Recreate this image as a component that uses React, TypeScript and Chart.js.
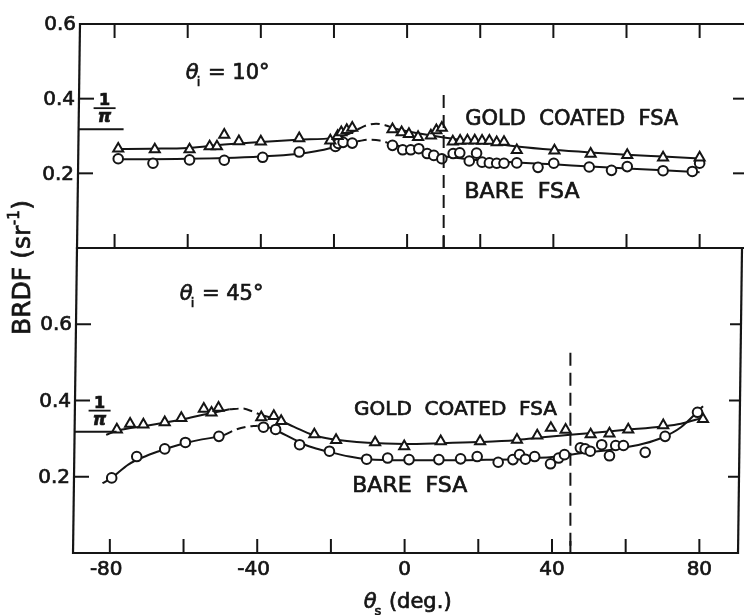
import React, { useEffect, useRef } from 'react';
import { Chart, registerables } from 'chart.js';

Chart.register(...registerables);

const W = 744;
const H = 615;
const INK = '#151515';
const FONT = '"DejaVu Sans", "Noto Sans", sans-serif';

// ---------------- x ticks ----------------
const xTickValues = [-80, -60, -40, -20, 0, 20, 40, 60, 80];
const xTickLabels = [-80, -40, 0, 40, 80];

// ---------------- TOP PANEL (theta_i = 10 deg) ----------------
const topGoldX = [-79, -69, -59.5, -54, -52, -50, -46, -40, -29.5, -21, -19, -18, -16.5, -15, -4, -1.5, 0.5, 3, 6.5, 8, 9.5, 12.5, 14.5, 16.5, 18.5, 20.5, 22.5, 24.5, 26.5, 30, 40.3, 50.2, 60.2, 70, 80];
const topGoldY = [0.266, 0.264, 0.264, 0.272, 0.272, 0.303, 0.286, 0.285, 0.294, 0.288, 0.3, 0.31, 0.316, 0.322, 0.318, 0.31, 0.305, 0.297, 0.301, 0.315, 0.322, 0.285, 0.287, 0.288, 0.288, 0.287, 0.287, 0.283, 0.284, 0.262, 0.261, 0.252, 0.249, 0.242, 0.242];

const topBareX = [-79, -69.5, -59.5, -50, -39.5, -29.5, -19.6, -18.8, -17.5, -15, -4, -1.2, 1, 3.2, 5.5, 7.3, 9.5, 12.6, 14.4, 19, 17, 20.5, 22.5, 24.5, 26.5, 30, 35.8, 40.1, 49.8, 55.9, 60.2, 70, 78, 80];
const topBareY = [0.239, 0.227, 0.236, 0.235, 0.243, 0.257, 0.272, 0.28, 0.283, 0.281, 0.275, 0.263, 0.263, 0.266, 0.253, 0.248, 0.239, 0.253, 0.255, 0.254, 0.233, 0.23, 0.228, 0.227, 0.227, 0.228, 0.216, 0.227, 0.217, 0.208, 0.218, 0.207, 0.205, 0.227];

const topGoldFitAX = [-80, -70, -60, -50, -40, -30, -20, -16, -13.5];
const topGoldFitAY = [0.265, 0.266, 0.268, 0.277, 0.284, 0.29, 0.295, 0.305, 0.318];
const topGoldFitDashX = [-13.5, -11, -8.5, -6, -3.5];
const topGoldFitDashY = [0.318, 0.329, 0.333, 0.329, 0.32];
const topGoldFitBX = [-3.5, 0, 5, 10, 15, 20, 30, 40, 50, 60, 70, 80];
const topGoldFitBY = [0.32, 0.313, 0.304, 0.296, 0.289, 0.284, 0.272, 0.263, 0.256, 0.25, 0.245, 0.24];

const topBareFitAX = [-80, -70, -60, -50, -40, -30, -25, -20, -16, -13.5];
const topBareFitAY = [0.238, 0.238, 0.239, 0.241, 0.245, 0.252, 0.259, 0.27, 0.281, 0.286];
const topBareFitDashX = [-13.5, -10.5, -7.5, -4.5];
const topBareFitDashY = [0.286, 0.29, 0.288, 0.279];
const topBareFitBX = [-4.5, 0, 5, 10, 15, 20, 30, 40, 50, 60, 70, 80];
const topBareFitBY = [0.279, 0.268, 0.256, 0.246, 0.24, 0.235, 0.229, 0.224, 0.218, 0.213, 0.208, 0.203];

// ---------------- BOTTOM PANEL (theta_i = 45 deg) ----------------
const botGoldX = [-78.1, -74.5, -70.9, -65.1, -60.6, -54.5, -52.4, -50.5, -38.9, -35.5, -33.5, -24.5, -18.6, -8, -0.1, 9.8, 20.5, 30.5, 36, 39.7, 43.7, 50.5, 55.6, 60.7, 70.2, 81];
const botGoldY = [0.324, 0.339, 0.337, 0.343, 0.354, 0.378, 0.368, 0.381, 0.356, 0.359, 0.346, 0.311, 0.296, 0.29, 0.28, 0.293, 0.293, 0.297, 0.308, 0.328, 0.323, 0.311, 0.313, 0.324, 0.335, 0.351];

const botBareX = [-79.5, -72.7, -65.1, -59.5, -50.4, -38.3, -35, -28.5, -20.4, -10.3, -4.6, 1.2, 9.3, 15.2, 19.7, 25.4, 29.4, 31.2, 32.8, 35.3, 39.6, 41.8, 43.4, 47.7, 49, 50.4, 53.5, 55.6, 57.3, 59.4, 65.3, 70.7, 79.5];
const botBareY = [0.197, 0.253, 0.273, 0.29, 0.306, 0.33, 0.324, 0.284, 0.267, 0.246, 0.249, 0.245, 0.245, 0.247, 0.253, 0.238, 0.245, 0.258, 0.246, 0.253, 0.234, 0.249, 0.258, 0.276, 0.273, 0.267, 0.284, 0.255, 0.282, 0.282, 0.264, 0.306, 0.369];

const botGoldFitAX = [-81, -78, -70, -60, -55, -50, -47.5];
const botGoldFitAY = [0.31, 0.321, 0.334, 0.351, 0.362, 0.372, 0.377];
const botGoldFitDashX = [-47.5, -44, -41, -39];
const botGoldFitDashY = [0.377, 0.379, 0.37, 0.362];
const botGoldFitBX = [-39, -35, -30, -25, -20, -10, 0, 10, 20, 30, 36, 45, 50, 60, 70, 75, 81];
const botGoldFitBY = [0.362, 0.352, 0.331, 0.31, 0.299, 0.289, 0.286, 0.288, 0.291, 0.296, 0.302, 0.31, 0.314, 0.323, 0.332, 0.339, 0.355];

const botBareFitAX = [-82, -79.5, -75, -70, -65, -60, -55, -50, -49];
const botBareFitAY = [0.183, 0.197, 0.232, 0.255, 0.272, 0.287, 0.298, 0.306, 0.309];
const botBareFitDashX = [-49, -46, -43, -40];
const botBareFitDashY = [0.309, 0.323, 0.331, 0.334];
const botBareFitBX = [-40, -37, -35, -30, -26, -20, -15, -10, 0, 10, 20, 30, 35, 40, 45, 50, 57, 65, 70, 75, 81];
const botBareFitBY = [0.334, 0.33, 0.322, 0.298, 0.28, 0.264, 0.253, 0.246, 0.243, 0.243, 0.244, 0.246, 0.249, 0.252, 0.258, 0.264, 0.272, 0.287, 0.303, 0.33, 0.385];

// ---------------- helpers ----------------
const pts = (xs: number[], ys: number[]) => xs.map((x, i) => ({ x, y: ys[i] }));

function markerSet(xs: number[], ys: number[], style: string) {
  return {
    data: pts(xs, ys),
    showLine: false,
    pointStyle: style,
    pointRadius: style === 'triangle' ? 5.8 : 4.8,
    pointBorderWidth: 2,
    pointBackgroundColor: '#fff',
    pointBorderColor: INK,
    backgroundColor: '#fff',
    borderColor: INK,
    order: 0,
    clip: 10,
  };
}

function fitSet(xs: number[], ys: number[], dashed: boolean) {
  return {
    data: pts(xs, ys),
    showLine: true,
    pointRadius: 0,
    borderColor: INK,
    borderWidth: 2,
    borderDash: dashed ? [9, 5] : [],
    cubicInterpolationMode: 'monotone',
    fill: false,
    order: 1,
    clip: 10,
  };
}

type Note =
  | { kind: 'text'; text: string; x: number; y: number; size: number }
  | { kind: 'theta'; sub: string; rest: string; x: number; y: number; size: number };

interface PanelCfg {
  spineLeft: [number, number];
  spineRight: [number, number] | null;
  lineEnd: number;
  topLine: boolean;
  topTicks: boolean;
  leftTicks: number[];
  rightTicks: number[];
  yLabels: number[];
  xLabels: number[];
  specular: number;
  specularTop: number;
  onePiLen: number;
  fracDx: number;
  notes: Note[];
  axisTitles: boolean;
}

// filled + lightly stroked text, to match the heavier lettering of the original
function txt(ctx: CanvasRenderingContext2D, s: string, x: number, y: number) {
  ctx.fillText(s, x, y);
  ctx.save();
  ctx.lineWidth = 0.7;
  ctx.setLineDash([]);
  ctx.strokeText(s, x, y);
  ctx.restore();
}

function drawTheta(ctx: CanvasRenderingContext2D, px: number, py: number, sub: string, rest: string, size: number, draw: boolean) {
  ctx.textAlign = 'left';
  ctx.textBaseline = 'alphabetic';
  ctx.font = `italic ${size}px ${FONT}`;
  const wt = ctx.measureText('θ').width;
  if (draw) txt(ctx, 'θ', px, py);
  const subSize = Math.round(size * 0.62);
  ctx.font = `${subSize}px ${FONT}`;
  const ws = ctx.measureText(sub).width;
  if (draw) txt(ctx, sub, px + wt - 2, py + size * 0.32);
  ctx.font = `${size}px ${FONT}`;
  const wr = ctx.measureText(rest).width;
  if (draw) txt(ctx, rest, px + wt + ws - 1, py);
  return wt + ws - 1 + wr;
}

function drawPanel(chart: any, cfg: PanelCfg) {
  const { ctx, chartArea: a } = chart;
  const xs = chart.scales.x;
  const ys = chart.scales.y;
  const X = (v: number) => xs.getPixelForValue(v);
  const Y = (v: number) => ys.getPixelForValue(v);
  const frac = (py: number) => (py - a.top) / (a.bottom - a.top);
  const leftAt = (py: number) => cfg.spineLeft[0] + (cfg.spineLeft[1] - cfg.spineLeft[0]) * frac(py);
  const rightAt = (py: number) =>
    cfg.spineRight ? cfg.spineRight[0] + (cfg.spineRight[1] - cfg.spineRight[0]) * frac(py) : cfg.lineEnd;

  ctx.save();
  ctx.strokeStyle = INK;
  ctx.fillStyle = INK;
  ctx.lineWidth = 2.2;
  ctx.lineCap = 'butt';
  const seg = (x1: number, y1: number, x2: number, y2: number) => {
    ctx.beginPath();
    ctx.moveTo(x1, y1);
    ctx.lineTo(x2, y2);
    ctx.stroke();
  };

  // frame
  seg(leftAt(a.top), a.top - 1, leftAt(a.bottom), a.bottom + 1);
  if (cfg.topLine) seg(leftAt(a.top) - 1, a.top, cfg.lineEnd, a.top);
  seg(leftAt(a.bottom) - 1, a.bottom, cfg.spineRight ? rightAt(a.bottom) + 1 : cfg.lineEnd, a.bottom);
  if (cfg.spineRight) seg(rightAt(a.top), a.top, rightAt(a.bottom), a.bottom + 1);

  // x ticks (inward)
  ctx.lineWidth = 2;
  for (const v of xTickValues) {
    const px = X(v);
    seg(px, a.bottom, px, a.bottom - 14);
    if (cfg.topTicks) seg(px, a.top, px, a.top + 14);
  }
  seg(X(cfg.specular), a.bottom, X(cfg.specular), a.bottom - 12);

  // y ticks
  for (const v of cfg.leftTicks) {
    const py = Y(v);
    seg(leftAt(py), py, leftAt(py) + 15, py);
  }
  for (const v of cfg.rightTicks) {
    const py = Y(v);
    seg(rightAt(py), py, rightAt(py) - 11, py);
  }

  // y labels
  ctx.font = `20px ${FONT}`;
  ctx.textAlign = 'right';
  ctx.textBaseline = 'middle';
  for (const v of cfg.yLabels) {
    const py = Y(v);
    txt(ctx, v.toFixed(1), leftAt(py) - 4, py + 1);
  }

  // 1/pi marker
  const pyPi = Y(1 / Math.PI);
  seg(leftAt(pyPi), pyPi, leftAt(pyPi) + cfg.onePiLen, pyPi);
  const cx = leftAt(pyPi) + cfg.fracDx;
  ctx.lineWidth = 1.8;
  seg(cx - 11, pyPi - 21, cx + 11, pyPi - 21);
  ctx.textAlign = 'center';
  ctx.textBaseline = 'alphabetic';
  ctx.font = `bold 16px ${FONT}`;
  txt(ctx, '1', cx, pyPi - 24);
  ctx.font = `italic bold 17px ${FONT}`;
  txt(ctx, 'π', cx, pyPi - 7);

  // specular dashed line
  ctx.lineWidth = 2;
  ctx.setLineDash([13, 7]);
  seg(X(cfg.specular), Y(cfg.specularTop), X(cfg.specular), a.bottom);
  ctx.setLineDash([]);

  // notes
  for (const n of cfg.notes) {
    if (n.kind === 'text') {
      ctx.font = `${n.size}px ${FONT}`;
      ctx.textAlign = 'left';
      ctx.textBaseline = 'alphabetic';
      txt(ctx, n.text, X(n.x), Y(n.y));
    } else {
      drawTheta(ctx, X(n.x), Y(n.y), n.sub, n.rest, n.size, true);
    }
  }

  // x tick labels
  ctx.textBaseline = 'middle';
  ctx.font = `20px ${FONT}`;
  for (const v of cfg.xLabels) {
    const px = X(v);
    const digits = String(Math.abs(v));
    const dw = ctx.measureText(digits).width;
    ctx.textAlign = 'right';
    txt(ctx, v < 0 ? '-' + digits : digits, px + dw / 2, a.bottom + 17);
  }

  if (cfg.axisTitles) {
    // x title
    const tw = drawTheta(ctx, 0, 0, 's', ' (deg.)', 21, false);
    drawTheta(ctx, X(0) + 3 - tw / 2, a.bottom + 55, 's', ' (deg.)', 21, true);

    // y title (rotated)
    ctx.save();
    ctx.translate(23, 268);
    ctx.rotate(-Math.PI / 2);
    ctx.textBaseline = 'middle';
    ctx.textAlign = 'left';
    ctx.font = `25px ${FONT}`;
    const p1 = 'BRDF (sr';
    const w1 = ctx.measureText(p1).width;
    const w3 = ctx.measureText(')').width;
    ctx.font = `15px ${FONT}`;
    const w2 = ctx.measureText('-1').width;
    const start = -(w1 + w2 + w3) / 2;
    ctx.font = `25px ${FONT}`;
    txt(ctx, p1, start, 0);
    txt(ctx, ')', start + w1 + w2 + 1, 0);
    ctx.font = `15px ${FONT}`;
    txt(ctx, '-1', start + w1 + 0.5, -8);
    ctx.restore();
  }

  ctx.restore();
}

function makeConfig(datasets: any[], ymax: number, padding: any, cfg: PanelCfg): any {
  return {
    type: 'scatter',
    data: { datasets },
    options: {
      responsive: false,
      animation: false,
      devicePixelRatio: 1,
      events: [],
      layout: { padding },
      scales: {
        x: { type: 'linear', min: -90, max: 90, display: false },
        y: { type: 'linear', min: 0, max: ymax, display: false },
      },
      plugins: { legend: { display: false }, tooltip: { enabled: false }, title: { display: false } },
    },
    plugins: [
      {
        id: 'panelDecor',
        afterDatasetsDraw(chart: any) {
          drawPanel(chart, cfg);
        },
      },
    ],
  };
}

const topCfg: PanelCfg = {
  spineLeft: [80, 77],
  spineRight: null,
  lineEnd: 744,
  topLine: true,
  topTicks: true,
  leftTicks: [0.4, 0.2],
  rightTicks: [0.4, 0.2],
  yLabels: [0.6, 0.4, 0.2],
  xLabels: [],
  specular: 10,
  specularTop: 0.41,
  onePiLen: 45,
  fracDx: 26,
  axisTitles: false,
  notes: [
    { kind: 'theta', sub: 'i', rest: ' = 10°', x: -60.5, y: 0.453, size: 21 },
    { kind: 'text', text: 'GOLD  COATED  FSA', x: 15.9, y: 0.329, size: 21 },
    { kind: 'text', text: 'BARE  FSA', x: 15.7, y: 0.134, size: 22 },
  ],
};

const botCfg: PanelCfg = {
  spineLeft: [77, 73],
  spineRight: [742, 738],
  lineEnd: 738,
  topLine: false,
  topTicks: false,
  leftTicks: [0.6, 0.4, 0.2],
  rightTicks: [0.6, 0.4, 0.2],
  yLabels: [0.6, 0.4, 0.2],
  xLabels: xTickLabels,
  specular: 45,
  specularTop: 0.525,
  onePiLen: 42,
  fracDx: 25,
  axisTitles: true,
  notes: [
    { kind: 'theta', sub: 'i', rest: ' = 45°', x: -61, y: 0.664, size: 21 },
    { kind: 'text', text: 'GOLD  COATED  FSA', x: -13.7, y: 0.362, size: 20 },
    { kind: 'text', text: 'BARE  FSA', x: -14.2, y: 0.16, size: 22 },
  ],
};

export default function App() {
  const topRef = useRef<HTMLCanvasElement>(null);
  const botRef = useRef<HTMLCanvasElement>(null);

  useEffect(() => {
    const topSets = [
      markerSet(topGoldX, topGoldY, 'triangle'),
      markerSet(topBareX, topBareY, 'circle'),
      fitSet(topGoldFitAX, topGoldFitAY, false),
      fitSet(topGoldFitDashX, topGoldFitDashY, true),
      fitSet(topGoldFitBX, topGoldFitBY, false),
      fitSet(topBareFitAX, topBareFitAY, false),
      fitSet(topBareFitDashX, topBareFitDashY, true),
      fitSet(topBareFitBX, topBareFitBY, false),
    ];
    const botSets = [
      markerSet(botGoldX, botGoldY, 'triangle'),
      markerSet(botBareX, botBareY, 'circle'),
      fitSet(botGoldFitAX, botGoldFitAY, false),
      fitSet(botGoldFitDashX, botGoldFitDashY, true),
      fitSet(botGoldFitBX, botGoldFitBY, false),
      fitSet(botBareFitAX, botBareFitAY, false),
      fitSet(botBareFitDashX, botBareFitDashY, true),
      fitSet(botBareFitBX, botBareFitBY, false),
    ];
    const c1 = new Chart(
      topRef.current as HTMLCanvasElement,
      makeConfig(topSets, 0.6, { left: 78, right: 0, top: 24, bottom: H - 248 }, topCfg)
    );
    const c2 = new Chart(
      botRef.current as HTMLCanvasElement,
      makeConfig(botSets, 0.8, { left: 73, right: W - 738, top: 248, bottom: H - 553 }, botCfg)
    );
    return () => {
      c1.destroy();
      c2.destroy();
    };
  }, []);

  return (
    <div style={{ position: 'fixed', left: 0, top: 0, width: W, height: H, background: '#fff', overflow: 'hidden' }}>
      <canvas ref={topRef} width={W} height={H} style={{ position: 'absolute', left: 0, top: 0 }} />
      <canvas ref={botRef} width={W} height={H} style={{ position: 'absolute', left: 0, top: 0 }} />
    </div>
  );
}
